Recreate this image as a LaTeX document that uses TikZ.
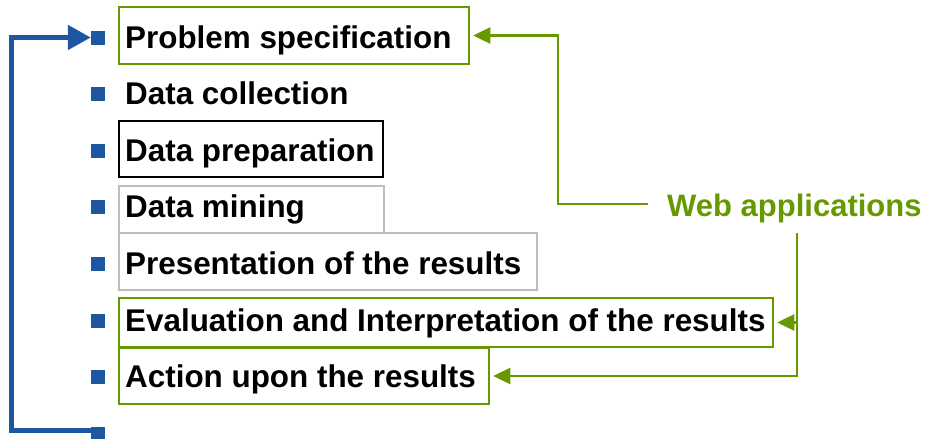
\documentclass[tikz,border=0pt]{standalone}
\usepackage{fontspec}
\setmainfont{Liberation Sans}
\usetikzlibrary{arrows.meta,fit}
\definecolor{webgreen}{RGB}{102,153,0}
\definecolor{stepblue}{RGB}{30,86,160}
\definecolor{boxgray}{RGB}{190,190,190}
\begin{document}
\begin{tikzpicture}[x=1pt,y=-1pt,
  bullet/.style={fill=stepblue, draw=none, minimum size=14pt, inner sep=0pt},
  item/.style={anchor=base west, inner sep=0pt, text=black,
    font=\fontsize{31.4}{36}\selectfont\bfseries},
  greenframe/.style={draw=webgreen, line width=2.5pt, inner sep=0pt},
  blackframe/.style={draw=black, line width=2pt, inner sep=0pt},
  grayframe/.style={draw=boxgray, line width=2pt, inner sep=0pt},
  blueloop/.style={draw=stepblue, line width=5pt, line join=miter,
    -{Triangle[length=23pt,width=24pt]}},
  greenlink/.style={draw=webgreen, line width=2.5pt, line join=miter},
  greenarrow/.style={greenlink, -{Triangle[length=17pt,width=16pt]}, shorten >=3pt},
  webtext/.style={text=webgreen, inner xsep=19pt, inner ysep=10.5pt,
    font=\fontsize{31}{36}\selectfont\bfseries}
]
\useasboundingbox (0,0) rectangle (929,439);

% frames around selected steps
\node[greenframe, fit={(119,7) (469,64)}]   (fps) {};
\node[blackframe, fit={(119,121) (383,177)}] (fdp) {};
\node[grayframe,  fit={(119,186) (384,233)}] (fdm) {};
\node[grayframe,  fit={(119,233) (537,290)}] (fpr) {};
\node[greenframe, fit={(119,298) (773,347)}] (fev) {};
\node[greenframe, fit={(119,348) (489,404)}] (fac) {};

% bullets
\node[bullet] (b1) at (98,37.5) {};
\node[bullet] (b2) at (98,94.1) {};
\node[bullet] (b3) at (98,150.7) {};
\node[bullet] (b4) at (98,207.3) {};
\node[bullet] (b5) at (98,263.9) {};
\node[bullet] (b6) at (98,320.5) {};
\node[bullet] (b7) at (98,377.1) {};
\node[bullet] (b8) at (98,433.7) {};

% step labels
\node[item] (t1) at (125,48)    {Problem specification};
\node[item] (t2) at (125,104.6) {Data collection};
\node[item] (t3) at (125,161.2) {Data preparation};
\node[item] (t4) at (125,217.8) {Data mining};
\node[item] (t5) at (125,274.4) {Presentation of the results};
\node[item] (t6) at (125,331)   {Evaluation and Interpretation of the results};
\node[item] (t7) at (125,387.6) {Action upon the results};

% web applications label
\node[webtext, anchor=base west] (web) at (648,216) {Web applications};

% loop back to the first step
\draw[blueloop] ([yshift=3pt]b8.west) -- ++(-79,0) |- (b1.west);

% links from the web applications label
\draw[greenarrow] ([yshift=4pt]web.west) -- ++(-90,0) |- (fps.east);
\coordinate (drop) at ([xshift=2.5pt]web.south);
\draw[greenarrow] (drop) |- (fac.east);
\draw[greenarrow] (drop |- fev.east) -- (fev.east);
\end{tikzpicture}
\end{document}
